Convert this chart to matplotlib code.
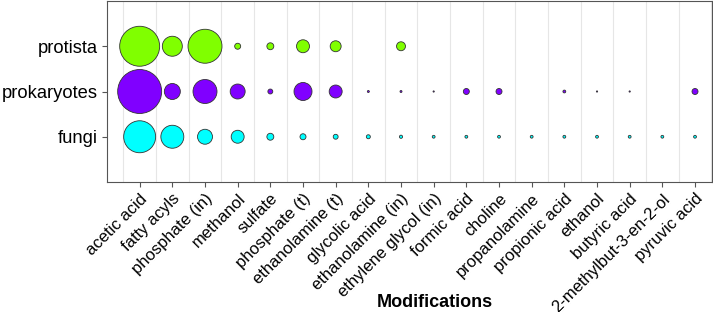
import matplotlib
matplotlib.use("Agg")
import matplotlib.pyplot as plt
import matplotlib.transforms as mtransforms
import numpy as np

plt.rcParams['font.family'] = ['Liberation Sans', 'DejaVu Sans']

modifications = ["acetic acid", "fatty acyls", "phosphate (in)", "methanol", "sulfate",
                 "phosphate (t)", "ethanolamine (t)", "glycolic acid", "ethanolamine (in)",
                 "ethylene glycol (in)", "formic acid", "choline", "propanolamine",
                 "propionic acid", "ethanol", "butyric acid", "2-methylbut-3-en-2-ol",
                 "pyruvic acid"]
groups = ["fungi", "prokaryotes", "protista"]

fungi = [256, 132, 56, 42, 12, 9, 6, 4, 2.5, 2, 2, 2, 2, 2, 2, 2, 2, 2]
prokaryotes = [484, 64, 144, 56, 6, 81, 42, 1, 1, 0.4, 9, 9, 0, 2, 0.4, 0.4, 0, 9]
protista = [400, 100, 289, 9, 12, 42, 30, 0, 20, 0, 0, 0, 0, 0, 0, 0, 0, 0]
colors = ["#00FFFF", "#8000FF", "#80FF00"]

fig = plt.figure(figsize=(7.13, 3.12), dpi=100)
ax = fig.add_axes([107/713, 1-182/312, 605/713, 181/312])

x = np.arange(len(modifications))
for i, (vals, c) in enumerate(zip([fungi, prokaryotes, protista], colors)):
    v = np.array(vals, dtype=float)
    m = v > 0
    ax.scatter(x[m], np.full(m.sum(), i + 1), s=v[m] * 2.07, c=c,
               edgecolors="#333333", linewidths=0.6, zorder=3)

ax.set_xlim(-1, 17.52)
ax.set_ylim(0, 4)
ax.set_yticks([1, 2, 3])
ax.set_yticklabels(groups, fontsize=13.2)
ax.set_xticks(x)
ax.set_xticklabels(modifications, rotation=45, ha='right', va='top',
                   rotation_mode='anchor', fontsize=12)
offset = mtransforms.ScaledTranslation(7.5/72, -5.5/72, fig.dpi_scale_trans)
for lab in ax.get_xticklabels():
    lab.set_transform(lab.get_transform() + offset)
for xv in np.arange(-0.5, 18, 1):
    ax.axvline(xv, color="#E6E6E6", lw=0.8, zorder=0)
for sp in ax.spines.values():
    sp.set_color("#555555")
ax.tick_params(colors="#555555", labelcolor="black", length=3.6, pad=3)

fig.text(435/713, 1-307/312, "Modifications", fontsize=13, fontweight='bold',
         ha='center', va='baseline')

fig.savefig("out.png", dpi=100)
